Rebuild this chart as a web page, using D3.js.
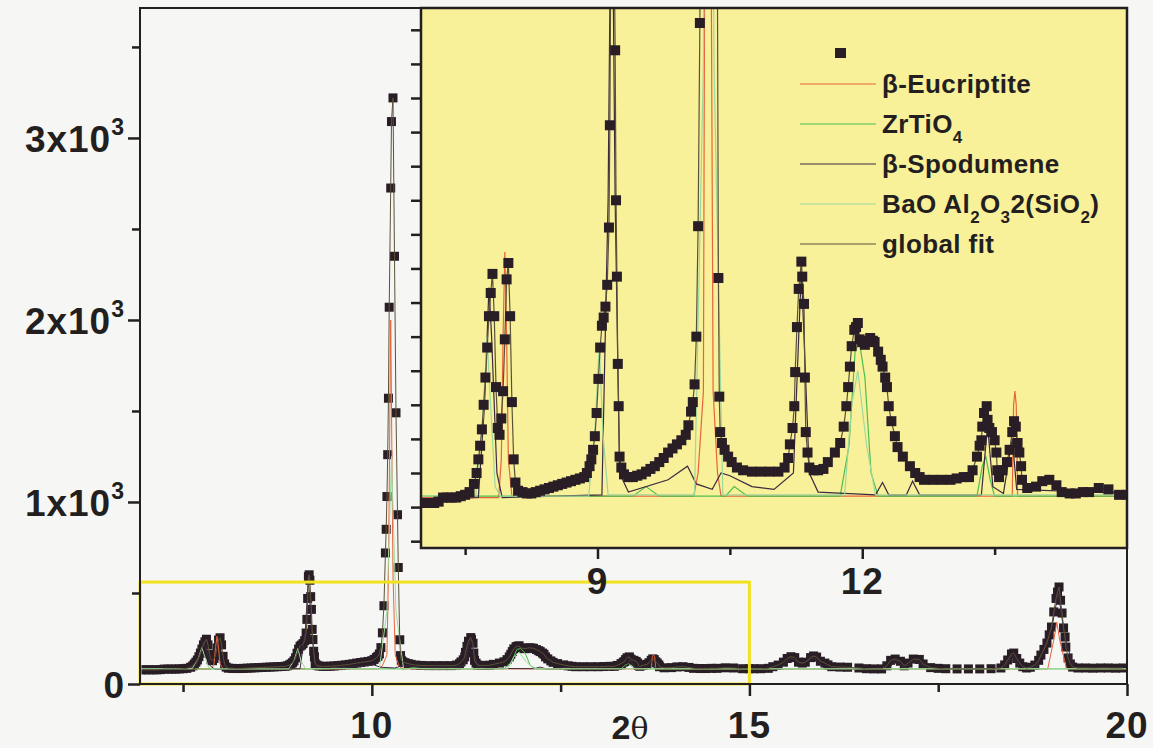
<!DOCTYPE html>
<html>
<head>
<meta charset="utf-8">
<script src="https://cdn.jsdelivr.net/npm/d3@7"></script>
<style>
  body { margin: 0; background: #f6f6f4; }
  svg { display: block; font-family: "Liberation Sans", Arial, sans-serif; font-weight: bold; }
</style>
</head>
<body>
<div class="board"></div>
<script>
// measured pattern (2 theta, counts)
var twoTheta = [6.95, 7.00, 7.05, 7.10, 7.15, 7.20, 7.25, 7.30, 7.35, 7.40, 7.45, 7.50, 7.55, 7.60, 7.63, 7.65, 7.67, 7.69, 7.71, 7.73,
  7.75, 7.77, 7.79, 7.81, 7.83, 7.85, 7.87, 7.89, 7.91, 7.93, 7.95, 7.97, 7.99, 8.01, 8.03, 8.05, 8.07, 8.10, 8.15, 8.20,
  8.25, 8.30, 8.35, 8.40, 8.45, 8.50, 8.55, 8.60, 8.65, 8.70, 8.75, 8.80, 8.85, 8.88, 8.91, 8.93, 8.95, 8.97, 8.99, 9.01,
  9.03, 9.05, 9.07, 9.09, 9.11, 9.13, 9.14, 9.15, 9.16, 9.17, 9.18, 9.19, 9.20, 9.21, 9.22, 9.23, 9.24, 9.25, 9.27, 9.30,
  9.35, 9.40, 9.45, 9.50, 9.55, 9.60, 9.65, 9.70, 9.75, 9.80, 9.85, 9.90, 9.95, 10.00, 10.03, 10.06, 10.08, 10.10, 10.12, 10.14,
  10.16, 10.18, 10.19, 10.20, 10.21, 10.22, 10.23, 10.25, 10.26, 10.28, 10.30, 10.32, 10.34, 10.35, 10.37, 10.38, 10.39, 10.41, 10.44, 10.48,
  10.52, 10.58, 10.65, 10.75, 10.85, 10.95, 11.05, 11.12, 11.16, 11.18, 11.21, 11.23, 11.24, 11.26, 11.28, 11.31, 11.32, 11.34, 11.35, 11.36,
  11.38, 11.40, 11.45, 11.50, 11.56, 11.61, 11.69, 11.75, 11.79, 11.82, 11.84, 11.86, 11.88, 11.91, 11.93, 11.95, 11.97, 12.00, 12.03, 12.06,
  12.09, 12.12, 12.14, 12.18, 12.21, 12.23, 12.26, 12.28, 12.30, 12.33, 12.37, 12.40, 12.46, 12.54, 12.60, 12.65, 12.70, 12.80, 12.90, 13.00,
  13.07, 13.15, 13.21, 13.25, 13.30, 13.33, 13.35, 13.36, 13.38, 13.41, 13.42, 13.44, 13.47, 13.50, 13.52, 13.53, 13.55, 13.59, 13.64, 13.67,
  13.70, 13.72, 13.74, 13.76, 13.78, 13.80, 13.81, 13.87, 13.97, 14.04, 14.12, 14.20, 14.26, 14.35, 14.42, 14.50, 14.57, 14.68, 14.79, 14.91,
  15.00, 15.06, 15.15, 15.25, 15.31, 15.38, 15.45, 15.50, 15.55, 15.60, 15.65, 15.70, 15.74, 15.81, 15.85, 15.89, 15.94, 16.00, 16.04, 16.09,
  16.20, 16.30, 16.45, 16.55, 16.65, 16.75, 16.82, 16.87, 16.93, 17.00, 17.05, 17.10, 17.17, 17.25, 17.30, 17.40, 17.50, 17.60, 17.75, 17.90,
  18.05, 18.20, 18.33, 18.38, 18.42, 18.47, 18.50, 18.54, 18.58, 18.62, 18.67, 18.72, 18.78, 18.83, 18.86, 18.90, 18.94, 18.97, 19.00, 19.03,
  19.06, 19.08, 19.10, 19.12, 19.14, 19.16, 19.18, 19.19, 19.22, 19.25, 19.28, 19.35, 19.45, 19.55, 19.65, 19.75, 19.85, 19.95];
var counts = [78, 78, 78, 78, 78, 79, 82, 82, 82, 82, 83, 84, 86, 92, 100, 110, 120, 132, 150, 170,
  192, 215, 232, 246, 215, 163, 133, 128, 140, 160, 198, 242, 254, 215, 152, 110, 93, 87, 86, 85,
  85, 86, 87, 88, 89, 90, 91, 92, 93, 94, 95, 96, 97, 100, 105, 110, 117, 127, 144, 169,
  192, 208, 214, 222, 238, 280, 355, 470, 590, 600, 570, 480, 410, 300, 244, 180, 149, 112, 104, 99,
  97, 97, 98, 99, 101, 103, 105, 108, 111, 115, 118, 121, 124, 128, 135, 145, 152, 165, 200, 281,
  430, 720, 850, 1030, 1260, 1570, 2070, 2725, 3090, 3220, 2350, 1490, 930, 640, 243, 156, 130, 122, 117, 112,
  108, 104, 102, 101, 101, 101, 101, 104, 111, 121, 133, 149, 174, 207, 235, 255, 244, 224, 170, 130,
  115, 104, 102, 102, 103, 108, 115, 122, 134, 149, 163, 178, 193, 205, 207, 210, 198, 196, 194, 197,
  199, 197, 196, 189, 183, 178, 170, 163, 149, 138, 127, 119, 112, 105, 100, 97, 95, 95, 95, 95,
  96, 97, 97, 102, 112, 120, 124, 134, 144, 149, 139, 133, 130, 124, 115, 102, 97, 102, 108, 117,
  130, 138, 134, 122, 115, 105, 95, 89, 90, 94, 95, 91, 86, 85, 85, 86, 86, 89, 88, 84,
  84, 84, 84, 86, 95, 104, 120, 140, 150, 145, 120, 115, 120, 145, 154, 148, 125, 115, 105, 95,
  93, 92, 88, 84, 83, 83, 100, 130, 137, 125, 100, 115, 137, 135, 110, 90, 86, 84, 83, 83,
  83, 84, 88, 105, 132, 165, 170, 140, 115, 95, 88, 92, 104, 130, 159, 190, 225, 270, 313, 396,
  470, 505, 533, 460, 390, 308, 258, 203, 143, 110, 93, 88, 88, 87, 88, 88, 87, 88];

// fitted phases, sparse [2 theta, counts]
var eucriptite = [[6.95, 82], [7.88, 82], [7.91, 110], [7.93, 200], [7.95, 262], [7.97, 200], [7.99, 110], [8.03, 83],
  [10.09, 83], [10.14, 100], [10.20, 160], [10.22, 600], [10.25, 2000], [10.28, 600], [10.31, 160], [10.36, 100], [10.40, 83],
  [13.70, 83], [13.715, 150], [13.73, 160], [13.745, 150], [13.76, 83], [18.95, 83], [19.03, 240], [19.07, 340], [19.11, 240], [19.2, 83], [20, 83]];
var zrtio4 = [[6.95, 83], [9.40, 83], [9.55, 90], [9.70, 83], [10.45, 83], [10.55, 90], [10.7, 83], [11.75, 83], [11.85, 120], [11.92, 190],
  [11.97, 195], [12.03, 170], [12.10, 100], [12.18, 83], [13.30, 83], [13.36, 105], [13.40, 112], [13.45, 95], [13.50, 83], [20, 83]];
var spodumene = [[6.95, 80], [7.65, 82], [7.72, 150], [7.77, 236], [7.80, 200], [7.86, 100], [7.92, 82], [9.05, 84], [9.12, 300],
  [9.16, 585], [9.20, 300], [9.25, 100], [9.35, 86], [9.8, 95], [10.02, 105], [10.12, 92], [10.3, 88], [10.4, 100], [10.5, 98],
  [10.75, 90], [11.0, 88], [11.22, 100], [11.28, 200], [11.31, 248], [11.34, 200], [11.4, 100], [11.5, 86], [12.15, 84], [12.23, 93],
  [12.3, 84], [12.5, 84], [12.57, 94], [12.65, 84], [13.35, 84], [13.42, 135], [13.48, 90], [13.6, 85], [13.66, 110], [13.7, 125],
  [13.75, 88], [15.4, 84], [15.55, 140], [15.7, 110], [15.85, 145], [16.0, 84], [16.85, 84], [16.93, 130], [17.05, 90], [17.2, 130],
  [17.35, 84], [18.38, 84], [18.48, 160], [18.58, 84], [18.8, 90], [19.0, 300], [19.09, 500], [19.18, 250], [19.3, 86], [20, 86]];
var bao = [[6.95, 83], [7.62, 84], [7.70, 140], [7.75, 200], [7.78, 160], [7.84, 90], [7.90, 83], [8.90, 83], [8.97, 130], [9.02, 195],
  [9.06, 130], [9.12, 84], [10.10, 84], [10.20, 400], [10.26, 1250], [10.32, 400], [10.42, 84], [11.80, 84], [11.88, 150], [11.95, 175],
  [12.05, 120], [12.15, 84], [20, 84]];

var legendNames = ["β-Eucriptite", "ZrTiO4", "β-Spodumene", "BaO Al2O32(SiO2)", "global fit"];
var phaseColors = ["#e8643c", "#4cbf4c", "#3b2a40", "#9ed89e", "#5a5238"];

var mainXTicks = [10, 15, 20], mainXMinor = [7.5, 12.5, 17.5];
var mainYTicks = [0, 1000, 2000, 3000], mainYMinor = [500, 1500, 2500, 3500];
var insetXTicks = [9, 12], insetXMinor = [7.5, 10.5, 13.5];
var insetYTicks = [50, 75, 100, 125, 150, 175, 200, 225, 250, 275, 300, 325, 350, 375, 400, 425];
var zoomBox = { x0: 6.93, x1: 15, y0: 0, y1: 560 };

var obs = twoTheta.map(function (t, i) { return [t, counts[i]]; });

var svg = d3.select('.board').append('svg')
  .attr('width', 1153)
  .attr('height', 748);

var x = d3.scaleLinear().domain([6.93, 20]).range([140, 1127]);
var y = d3.scaleLinear().domain([0, 3714]).range([684, 8]);
var ix = d3.scaleLinear().domain([7, 15]).range([421, 1127]);
var iy = d3.scaleLinear().domain([45, 441]).range([548, 8]);

var defs = svg.append('defs');
defs.append('clipPath').attr('id', 'mainClip').append('rect')
  .attr('x', 140).attr('y', 8).attr('width', 987).attr('height', 676);
defs.append('clipPath').attr('id', 'insetClip').append('rect')
  .attr('x', 421).attr('y', 8).attr('width', 706).attr('height', 540);

var phases = [eucriptite, zrtio4, spodumene, bao];

// ---- main plot ----
var main = svg.append('g').attr('clip-path', 'url(#mainClip)');

main.selectAll('rect.obs')
  .data(obs)
  .enter().append('rect')
    .attr('class', 'obs')
    .attr('x', function (d) { return x(d[0]) - 4.5; })
    .attr('y', function (d) { return y(d[1]) - 4.5; })
    .attr('width', 9)
    .attr('height', 9)
    .attr('fill', '#2a1e26');

var mainLine = d3.line().x(function (d) { return x(d[0]); }).y(function (d) { return y(d[1]); });
phases.forEach(function (p, i) {
  main.append('path').attr('d', mainLine(p))
    .attr('fill', 'none').attr('stroke', phaseColors[i]).attr('stroke-width', 1);
});
main.append('path').attr('d', mainLine(obs))
  .attr('fill', 'none').attr('stroke', phaseColors[4]).attr('stroke-width', 1);

// yellow zoom box
svg.append('rect')
  .attr('x', x(zoomBox.x0)).attr('y', y(zoomBox.y1))
  .attr('width', x(zoomBox.x1) - x(zoomBox.x0))
  .attr('height', y(zoomBox.y0) - y(zoomBox.y1))
  .attr('fill', 'none').attr('stroke', '#f0e21e').attr('stroke-width', 3);

// main frame and axes
svg.append('rect').attr('x', 140).attr('y', 8).attr('width', 987).attr('height', 676)
  .attr('fill', 'none').attr('stroke', '#231f20').attr('stroke-width', 2);

var xAxis = svg.append('g').attr('transform', 'translate(0,684)');
xAxis.append('g').call(d3.axisBottom(x).tickValues(mainXTicks).tickSize(12).tickFormat(''));
xAxis.append('g').call(d3.axisBottom(x).tickValues(mainXMinor).tickSize(8).tickFormat(''));
xAxis.selectAll('.domain').remove();
xAxis.selectAll('line').attr('stroke', '#231f20').attr('stroke-width', 2.5);
xAxis.selectAll('text.lbl')
  .data(mainXTicks)
  .enter().append('text')
    .attr('class', 'lbl')
    .attr('x', function (d) { return x(d); })
    .attr('y', 54)
    .attr('text-anchor', 'middle')
    .attr('font-size', 37)
    .attr('letter-spacing', 1)
    .attr('fill', '#231f20')
    .text(function (d) { return d; });

var axTitle = svg.append('text').attr('x', 630).attr('y', 739).attr('text-anchor', 'middle')
  .attr('font-size', 34).attr('fill', '#231f20');
axTitle.append('tspan').text('2');
axTitle.append('tspan').attr('font-family', '"DejaVu Serif", serif').attr('font-weight', 'normal')
  .attr('font-size', 30).text('θ');

var yAxis = svg.append('g').attr('transform', 'translate(140,0)');
yAxis.append('g').call(d3.axisLeft(y).tickValues(mainYTicks).tickSize(12).tickFormat(''));
yAxis.append('g').call(d3.axisLeft(y).tickValues(mainYMinor).tickSize(8).tickFormat(''));
yAxis.selectAll('.domain').remove();
yAxis.selectAll('line').attr('stroke', '#231f20').attr('stroke-width', 2.5);
var yl = yAxis.selectAll('text.lbl')
  .data(mainYTicks)
  .enter().append('text')
    .attr('class', 'lbl')
    .attr('x', -15)
    .attr('y', function (d) { return y(d) + 14; })
    .attr('text-anchor', 'end')
    .attr('font-size', 37)
    .attr('letter-spacing', 1)
    .attr('fill', '#231f20');
yl.append('tspan').text(function (d) { return d === 0 ? '0' : (d / 1000) + 'x10'; });
yl.filter(function (d) { return d > 0; }).append('tspan')
  .attr('dy', -17).attr('font-size', 23).text('3');

// ---- inset ----
svg.append('rect').attr('x', 421).attr('y', 8).attr('width', 706).attr('height', 540)
  .attr('fill', '#f9f09a');

var inset = svg.append('g').attr('clip-path', 'url(#insetClip)');
var insetLine = d3.line().x(function (d) { return ix(d[0]); }).y(function (d) { return iy(d[1]); });
phases.forEach(function (p, i) {
  inset.append('path').attr('d', insetLine(p))
    .attr('fill', 'none').attr('stroke', phaseColors[i]).attr('stroke-width', 1.2);
});
inset.append('path').attr('d', insetLine(obs))
  .attr('fill', 'none').attr('stroke', phaseColors[4]).attr('stroke-width', 1.2);
inset.selectAll('rect.obs')
  .data(obs)
  .enter().append('rect')
    .attr('class', 'obs')
    .attr('x', function (d) { return ix(d[0]) - 5; })
    .attr('y', function (d) { return iy(d[1]) - 5; })
    .attr('width', 10)
    .attr('height', 10)
    .attr('fill', '#2a1e26');

svg.append('rect').attr('x', 421).attr('y', 8).attr('width', 706).attr('height', 540)
  .attr('fill', 'none').attr('stroke', '#231f20').attr('stroke-width', 2.5);

var ixAxis = svg.append('g').attr('transform', 'translate(0,548)');
ixAxis.append('g').call(d3.axisBottom(ix).tickValues(insetXTicks).tickSize(11).tickFormat(''));
ixAxis.append('g').call(d3.axisBottom(ix).tickValues(insetXMinor).tickSize(7).tickFormat(''));
ixAxis.selectAll('.domain').remove();
ixAxis.selectAll('line').attr('stroke', '#231f20').attr('stroke-width', 2.5);
ixAxis.selectAll('text.lbl')
  .data(insetXTicks)
  .enter().append('text')
    .attr('class', 'lbl')
    .attr('x', function (d) { return ix(d); })
    .attr('y', 46)
    .attr('text-anchor', 'middle')
    .attr('font-size', 37)
    .attr('letter-spacing', 1)
    .attr('fill', '#231f20')
    .text(function (d) { return d; });

var iyAxis = svg.append('g').attr('transform', 'translate(421,0)');
iyAxis.call(d3.axisLeft(iy).tickValues(insetYTicks).tickSize(10).tickFormat(''));
iyAxis.select('.domain').remove();
iyAxis.selectAll('line').attr('stroke', '#231f20').attr('stroke-width', 2.5);

// legend
var legend = svg.append('g').attr('font-size', 26).attr('letter-spacing', 0.4).attr('fill', '#231f20');
legend.append('rect').attr('x', 835).attr('y', 48).attr('width', 11).attr('height', 10).attr('fill', '#2a1e26');
var rows = legend.selectAll('g.row')
  .data(legendNames)
  .enter().append('g')
    .attr('class', 'row')
    .attr('transform', function (d, i) { return 'translate(0,' + (84 + i * 40) + ')'; });
rows.append('line')
  .attr('x1', 800).attr('x2', 876)
  .attr('stroke', function (d, i) { return phaseColors[i]; })
  .attr('stroke-width', 1.2);
var lt = rows.append('text').attr('x', 882).attr('y', 9);
lt.each(function (d) {
  var t = d3.select(this);
  // digits after element symbols are drawn as subscripts
  var parts = d.split(/(\d)/);
  if (d.indexOf('Eucriptite') >= 0 || d.indexOf('Spodumene') >= 0 || d === 'global fit') { t.text(d); return; }
  var sub = false;
  parts.forEach(function (s, k) {
    if (s === '') return;
    var isDigit = /\d/.test(s);
    var isSub = isDigit && !(s === '2' && parts[k + 1] && parts[k + 1].charAt(0) === '(');
    if (isSub) {
      t.append('tspan').attr('dy', sub ? 0 : 10).attr('font-size', 17).text(s);
      sub = true;
    } else {
      t.append('tspan').attr('dy', sub ? -10 : 0).text(s);
      sub = false;
    }
  });
});
</script>
</body>
</html>
